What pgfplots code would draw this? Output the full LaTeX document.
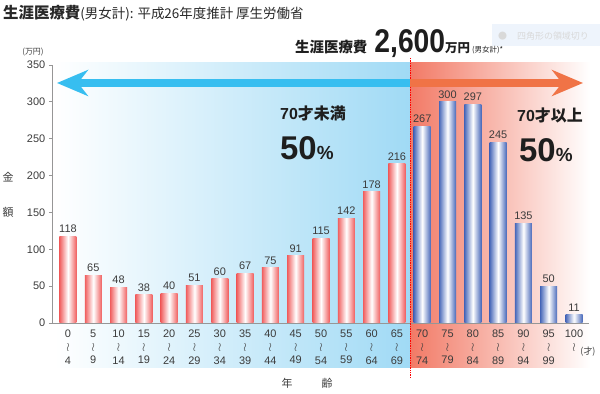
\documentclass[border=0pt]{standalone}
\usepackage{pgfplots}
\pgfplotsset{compat=1.18}
\usepackage{fontspec}
\setmainfont{Liberation Sans}
\newfontfamily\cjk{Noto Sans CJK JP}
\usetikzlibrary{arrows.meta}
\definecolor{bgblue}{RGB}{160,218,245}
\definecolor{bgred}{RGB}{242,122,102}
\definecolor{barred}{RGB}{240,95,95}
\definecolor{barblue}{RGB}{72,104,185}
\definecolor{arrowblue}{RGB}{55,190,240}
\definecolor{arroworange}{RGB}{240,115,70}
\definecolor{labelgray}{RGB}{60,60,60}
\definecolor{axisgray}{RGB}{150,150,150}
\definecolor{fadebg}{RGB}{238,244,252}
\newcommand{\wv}{{\fontsize{13}{10}\selectfont$\wr$}}
\begin{document}
\begin{tikzpicture}
\useasboundingbox (0,0) rectangle (600bp,394bp);
\begin{scope}[x=1bp,y=-1bp,shift={(0,394bp)}]
 \shade[left color=white, right color=bgblue] (55,63) rectangle (410,368);
 \shade[left color=bgred, right color=white] (410,63) rectangle (590,368);
\end{scope}
\begin{axis}[
  at={(52.8bp,71bp)}, anchor=south west, scale only axis,
  width=536.4bp, height=258bp,
  xmin=-0.6, xmax=20.6, ymin=0, ymax=350,
  axis lines=left, axis line style={-, draw=axisgray, line width=0.8bp},
  ytick={0,50,...,350}, xtick={0,...,20},
  xticklabels={{0\\\wv\\4},{5\\\wv\\9},{10\\\wv\\14},{15\\\wv\\19},{20\\\wv\\24},{25\\\wv\\29},{30\\\wv\\34},{35\\\wv\\39},{40\\\wv\\44},{45\\\wv\\49},{50\\\wv\\54},{55\\\wv\\59},{60\\\wv\\64},{65\\\wv\\69},{70\\\wv\\74},{75\\\wv\\79},{80\\\wv\\84},{85\\\wv\\89},{90\\\wv\\94},{95\\\wv\\99},{100\\\wv\\\mbox{}}},
  xticklabel style={align=center, font=\fontsize{11}{13.5}\selectfont, text=labelgray, anchor=north, yshift=1bp},
  x tick style={draw=none},
  y tick style={draw=axisgray, line width=0.8bp},
  tick align=outside, major tick length=4bp,
  yticklabel style={font=\fontsize{11}{11}\selectfont, text=labelgray},
  /pgf/number format/assume math mode=true,
  ybar, bar width=17bp, bar shift=0pt,
  clip=false,
  nodes near coords,
  nodes near coords style={font=\fontsize{11}{11}\selectfont, text=labelgray, /pgf/number format/assume math mode=true},
  redbar/.style={bar shift=0pt, draw=none, left color=barred, right color=barred, middle color=white},
  bluebar/.style={bar shift=0pt, draw=none, left color=barblue, right color=barblue, middle color=white},
]
\addplot[redbar] coordinates {(0,118)};
\addplot[redbar] coordinates {(1,65)};
\addplot[redbar] coordinates {(2,48)};
\addplot[redbar] coordinates {(3,38)};
\addplot[redbar] coordinates {(4,40)};
\addplot[redbar] coordinates {(5,51)};
\addplot[redbar] coordinates {(6,60)};
\addplot[redbar] coordinates {(7,67)};
\addplot[redbar] coordinates {(8,75)};
\addplot[redbar] coordinates {(9,91)};
\addplot[redbar] coordinates {(10,115)};
\addplot[redbar] coordinates {(11,142)};
\addplot[redbar] coordinates {(12,178)};
\addplot[redbar] coordinates {(13,216)};
\addplot[bluebar] coordinates {(14,267)};
\addplot[bluebar] coordinates {(15,300)};
\addplot[bluebar] coordinates {(16,297)};
\addplot[bluebar] coordinates {(17,245)};
\addplot[bluebar] coordinates {(18,135)};
\addplot[bluebar] coordinates {(19,50)};
\addplot[bluebar] coordinates {(20,11)};
\end{axis}
\begin{scope}[x=1bp,y=-1bp,shift={(0,394bp)}]
 \draw[red, densely dotted, line width=0.7bp] (410,58) -- (410,378);
 \draw[arrowblue, line width=8bp, -{Stealth[length=31bp,width=26bp]}] (410,83) -- (57,83);
 \draw[arroworange, line width=8bp, -{Stealth[length=31bp,width=26bp]}] (410,83) -- (583,83);
 % fade box
 \fill[fadebg] (492,24) rectangle (600,46);
 \node[anchor=west, inner sep=0pt, text=gray!30, font=\cjk\fontsize{9}{9}\selectfont] at (498,36) {●\hspace{10bp}四角形の領域切り};
 % title
 \node[anchor=base west, inner sep=0pt, text={rgb,255:red,40;green,40;blue,40}] at (3,19)
   {{\cjk\bfseries\fontsize{15.5}{15.5}\selectfont 生涯医療費}{\cjk\fontsize{13.5}{13.5}\selectfont (男女計): 平成26年度推計 厚生労働省}};
 % header
 \node[anchor=base west, inner sep=0pt, text={rgb,255:red,30;green,30;blue,30}] at (295,53)
   {{\cjk\bfseries\fontsize{14.5}{14.5}\selectfont 生涯医療費}\hspace{7bp}\scalebox{0.86}[1]{\bfseries\fontsize{33}{33}\selectfont 2,600}{\cjk\bfseries\fontsize{12.5}{12.5}\selectfont 万円}\hspace{2bp}{\cjk\fontsize{7.5}{7.5}\selectfont (男女計)*}};
 % left / right texts
 \node[anchor=base west, inner sep=0pt, text={rgb,255:red,30;green,30;blue,30}] at (280,120)
   {\bfseries\fontsize{16}{16}\selectfont 70{\cjk 才未満}};
 \node[anchor=base west, inner sep=0pt, text={rgb,255:red,30;green,30;blue,30}] at (280,160)
   {\bfseries{\fontsize{33}{33}\selectfont 50}{\fontsize{19}{19}\selectfont\%}};
 \node[anchor=base west, inner sep=0pt, text={rgb,255:red,30;green,30;blue,30}] at (517,122)
   {\bfseries\fontsize{16}{16}\selectfont 70{\cjk 才以上}};
 \node[anchor=base west, inner sep=0pt, text={rgb,255:red,30;green,30;blue,30}] at (519,162)
   {\bfseries{\fontsize{33}{33}\selectfont 50}{\fontsize{19}{19}\selectfont\%}};
 % axis labels
 \node[text=labelgray, font=\cjk\fontsize{8}{8}\selectfont] at (33,52) {(万円)};
 \node[text=labelgray, font=\cjk\fontsize{11}{11}\selectfont] at (8,177) {金};
 \node[text=labelgray, font=\cjk\fontsize{11}{11}\selectfont] at (8,212) {額};
 \node[text=labelgray, font=\cjk\fontsize{11}{11}\selectfont] at (287,383) {年};
 \node[text=labelgray, font=\cjk\fontsize{11}{11}\selectfont] at (327,383) {齢};
 \node[text=labelgray, font=\cjk\fontsize{9}{9}\selectfont] at (588,352) {(才)};
\end{scope}
\end{tikzpicture}
\end{document}
